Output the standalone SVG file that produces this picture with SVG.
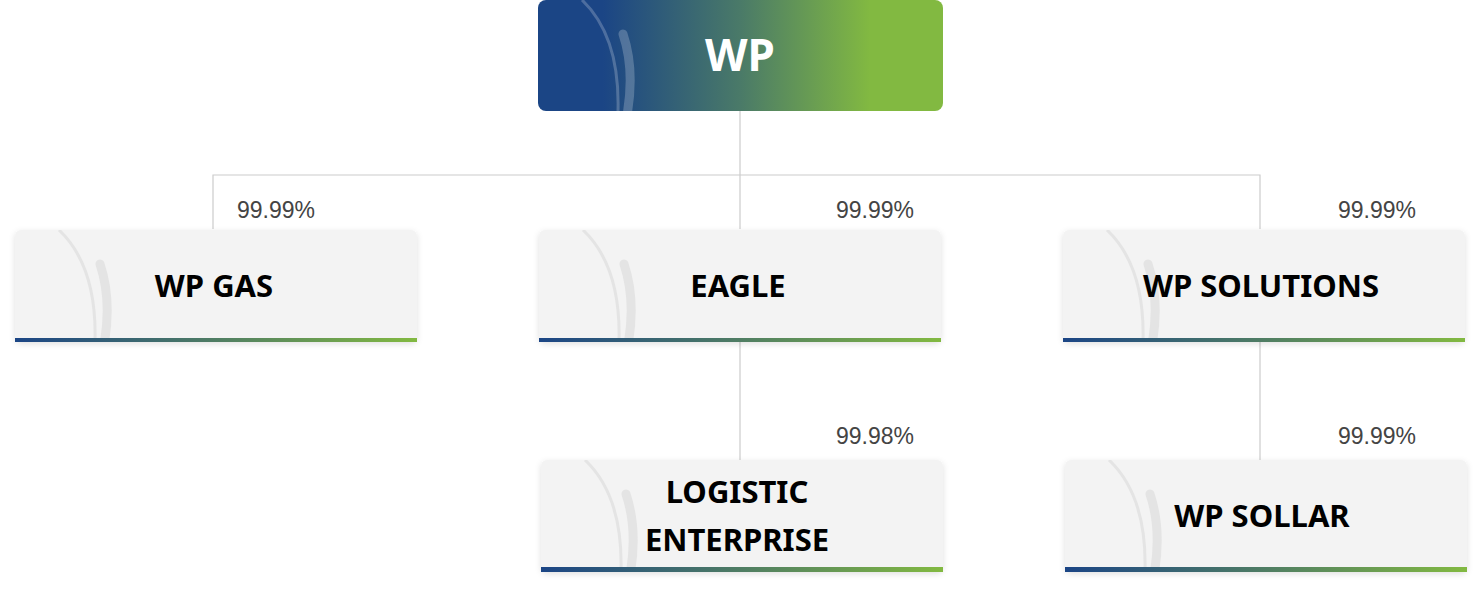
<svg xmlns="http://www.w3.org/2000/svg" width="1482" height="590" viewBox="0 0 1482 590">
<defs>
<linearGradient id="gTop" x1="0" y1="0" x2="1" y2="0">
<stop offset="0.16" stop-color="#1b4585"/>
<stop offset="0.5" stop-color="#4a7a68"/>
<stop offset="0.82" stop-color="#82b941"/>
</linearGradient>
<linearGradient id="gBar" x1="0" y1="0" x2="1" y2="0">
<stop offset="0" stop-color="#1b4585"/>
<stop offset="0.5" stop-color="#4f7d63"/>
<stop offset="1" stop-color="#82b941"/>
</linearGradient>
<clipPath id="boxclip"><rect x="0" y="0" width="402" height="111"/></clipPath>
<filter id="sh" x="-5%" y="-10%" width="110%" height="130%">
<feDropShadow dx="0" dy="2" stdDeviation="3" flood-color="#000" flood-opacity="0.12"/>
</filter>
<g id="arcsL">
<path d="M44,0 Q82,36 80,111" fill="none" stroke="#e4e4e4" stroke-width="3"/>
<path d="M85,34 Q97,70 89,115" fill="none" stroke="#e4e4e4" stroke-width="9" stroke-linecap="round"/>
</g>
<g id="arcsW">
<path d="M44,0 Q82,36 80,111" fill="none" stroke="#ffffff" stroke-opacity="0.22" stroke-width="3"/>
<path d="M85,34 Q97,70 89,115" fill="none" stroke="#ffffff" stroke-opacity="0.22" stroke-width="9" stroke-linecap="round"/>
</g>
</defs>
<style>
.box{fill:#f3f3f3;}
.lbl{font-family:"Noto Sans","Open Sans",sans-serif;font-weight:700;font-size:31px;fill:#000;text-anchor:middle;}
.pct{font-family:"Liberation Sans",Arial,sans-serif;font-size:23px;fill:#444;}
.conn{fill:none;stroke:#cccccc;stroke-width:1.2;}
</style>
<g id="connectors">
<path class="conn" d="M740,111 V175 M213,229 V175 H1260 V229 M740,175 V229 M740,342 V460 M1260,342 V460"/>
</g>
<g id="pcts">
<text class="pct" x="237" y="218">99.99%</text>
<text class="pct" x="914" y="218" text-anchor="end">99.99%</text>
<text class="pct" x="1416" y="218" text-anchor="end">99.99%</text>
<text class="pct" x="914" y="444" text-anchor="end">99.98%</text>
<text class="pct" x="1416" y="444" text-anchor="end">99.99%</text>
</g>
<g id="node-wp">
<rect x="538" y="0" width="405" height="111" rx="8" fill="url(#gTop)"/>
<g transform="translate(538,0)" clip-path="url(#boxclip)"><use href="#arcsW"/></g>
<text x="740" y="71" font-family="Noto Sans, Open Sans, sans-serif" font-weight="700" font-size="44" fill="#fff" text-anchor="middle">WP</text>
</g>
<g id="node-wpgas">
<rect class="box" x="15" y="230" width="402" height="112" rx="6" filter="url(#sh)"/>
<g transform="translate(15,230)" clip-path="url(#boxclip)"><use href="#arcsL"/></g>
<rect x="15" y="338" width="402" height="4" fill="url(#gBar)"/>
<text class="lbl" x="214" y="297">WP GAS</text>
</g>
<g id="node-eagle">
<rect class="box" x="539" y="230" width="402" height="112" rx="6" filter="url(#sh)"/>
<g transform="translate(539,230)" clip-path="url(#boxclip)"><use href="#arcsL"/></g>
<rect x="539" y="338" width="402" height="4" fill="url(#gBar)"/>
<text class="lbl" x="738" y="297">EAGLE</text>
</g>
<g id="node-wpsolutions">
<rect class="box" x="1063" y="230" width="402" height="112" rx="6" filter="url(#sh)"/>
<g transform="translate(1063,230)" clip-path="url(#boxclip)"><use href="#arcsL"/></g>
<rect x="1063" y="338" width="402" height="4" fill="url(#gBar)"/>
<text class="lbl" x="1261" y="297">WP SOLUTIONS</text>
</g>
<g id="node-logistic">
<rect class="box" x="541" y="460" width="402" height="112" rx="6" filter="url(#sh)"/>
<g transform="translate(541,460)" clip-path="url(#boxclip)"><use href="#arcsL"/></g>
<rect x="541" y="567" width="402" height="5" fill="url(#gBar)"/>
<text class="lbl" x="737" y="503">LOGISTIC</text>
<text class="lbl" x="737" y="551">ENTERPRISE</text>
</g>
<g id="node-wpsollar">
<rect class="box" x="1065" y="460" width="402" height="112" rx="6" filter="url(#sh)"/>
<g transform="translate(1065,460)" clip-path="url(#boxclip)"><use href="#arcsL"/></g>
<rect x="1065" y="567" width="402" height="5" fill="url(#gBar)"/>
<text class="lbl" x="1262" y="527">WP SOLLAR</text>
</g>
</svg>
